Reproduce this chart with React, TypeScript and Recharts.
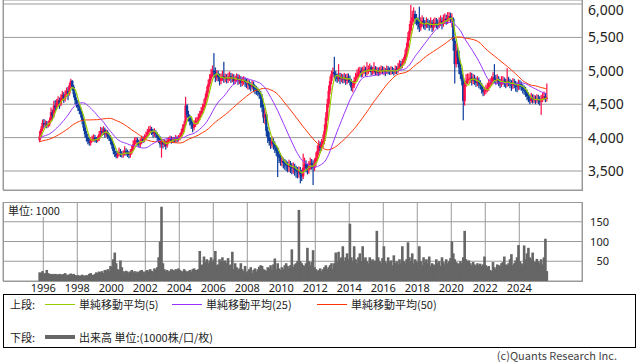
import React from 'react';
import { ComposedChart, Bar, Line, XAxis, YAxis, CartesianGrid } from 'recharts';

// monthly candles, first one is Oct 1995
const startYear = 1995;
const startMonth = 10;
const firstOpen = 3960;
// level where each average line starts on the left edge (history before the first candle)
const maStartLevels = { ma5: 4000, ma25: 4000, ma50: 3940 };

const closes = [
  4020, 4130, 4220,
  4200, 4210, 4180, 4200, 4260, 4380, 4330, 4480, 4450, 4520, 4560, 4500, // 1996
  4600, 4640, 4580, 4650, 4700, 4660, 4780, 4850, 4760, 4650, 4560, 4500, // 1997
  4450, 4400, 4350, 4250, 4150, 4050, 4000, 3950, 3920, 3960, 3980, 4000, // 1998
  3970, 3960, 3980, 4050, 4100, 4080, 4120, 4050, 4080, 4020, 4000, 3950, // 1999
  3880, 3800, 3760, 3720, 3750, 3780, 3760, 3740, 3760, 3800, 3780, 3760, // 2000
  3740, 3780, 3830, 3900, 3950, 3960, 3930, 3900, 3940, 3980, 3960, 4000, // 2001
  4030, 4080, 4120, 4130, 4100, 4060, 4080, 4050, 4000, 3980, 3900, 3940, // 2002
  3900, 3920, 3880, 3950, 3960, 3980, 3950, 3970, 3960, 3990, 3970, 3990, // 2003
  4020, 4080, 4150, 4200, 4480, 4350, 4300, 4250, 4200, 4150, 4200, 4250, // 2004
  4250, 4300, 4350, 4400, 4450, 4500, 4600, 4700, 4800, 4880, 4950, 5000, // 2005
  4980, 4900, 4950, 4900, 4850, 4900, 4920, 4880, 4900, 4870, 4900, 4920, // 2006
  4880, 4900, 4850, 4870, 4900, 4850, 4880, 4820, 4850, 4860, 4830, 4800, // 2007
  4820, 4780, 4760, 4800, 4740, 4720, 4700, 4680, 4650, 4600, 4450, 4300, // 2008
  4350, 4100, 4000, 3950, 3900, 3950, 3900, 3850, 3800, 3750, 3700, 3650, // 2009
  3650, 3620, 3600, 3580, 3560, 3600, 3560, 3540, 3560, 3520, 3500, 3480, // 2010
  3500, 3450, 3420, 3550, 3600, 3550, 3520, 3580, 3620, 3600, 3550, 3620, // 2011
  3700, 3800, 3900, 3850, 3900, 3950, 4100, 4300, 4500, 4700, 4850, 4950, // 2012
  4980, 4950, 4900, 4880, 4920, 4880, 4900, 4870, 4900, 4850, 4900, 4880, // 2013
  4850, 4750, 4780, 4850, 4900, 4950, 4980, 5000, 4970, 5000, 5020, 4980, // 2014
  5000, 5020, 5050, 4980, 5000, 5030, 4980, 5000, 4970, 5000, 5020, 5000, // 2015
  5000, 4980, 5020, 5000, 4990, 5010, 5000, 4980, 5020, 5000, 5050, 5100, // 2016
  5080, 5120, 5150, 5250, 5350, 5500, 5600, 5750, 5800, 5850, 5780, 5750, // 2017
  5700, 5650, 5720, 5750, 5700, 5680, 5720, 5700, 5680, 5720, 5650, 5700, // 2018
  5720, 5700, 5680, 5720, 5750, 5700, 5760, 5780, 5750, 5800, 5820, 5780, // 2019
  5780, 5450, 5100, 5300, 5200, 5050, 4950, 4850, 4550, 4800, 4850, 4880, // 2020
  4880, 4900, 4850, 4880, 4850, 4820, 4850, 4800, 4780, 4720, 4680, 4700, // 2021
  4720, 4750, 4800, 4820, 4850, 4900, 4880, 4850, 4880, 4820, 4800, 4850, // 2022
  4850, 4820, 4800, 4850, 4830, 4800, 4780, 4820, 4800, 4780, 4760, 4800, // 2023
  4780, 4760, 4720, 4700, 4680, 4620, 4580, 4550, 4600, 4560, 4580, 4560, // 2024
  4580, 4560, 4540, 4580, 4600, 4620, 4580, 4600, // 2025
];

const highs = [
  4100, 4170, 4270,
  4280, 4260, 4250, 4250, 4300, 4450, 4420, 4550, 4560, 4580, 4620, 4600,
  4650, 4700, 4680, 4710, 4750, 4760, 4820, 4880, 4860, 4790, 4680, 4600,
  4560, 4500, 4450, 4380, 4290, 4200, 4100, 4060, 4000, 4010, 4030, 4050,
  4040, 4010, 4030, 4100, 4160, 4150, 4170, 4150, 4120, 4110, 4060, 4040,
  3980, 3920, 3850, 3800, 3800, 3850, 3830, 3800, 3810, 3870, 3840, 3820,
  3800, 3830, 3880, 3960, 4000, 4010, 4000, 3970, 3990, 4030, 4020, 4050,
  4090, 4130, 4170, 4180, 4160, 4130, 4140, 4110, 4080, 4050, 4020, 3990,
  3980, 3970, 3960, 3990, 4010, 4030, 4020, 4010, 4010, 4040, 4020, 4040,
  4070, 4130, 4200, 4250, 4610, 4500, 4400, 4340, 4300, 4240, 4260, 4300,
  4310, 4360, 4400, 4460, 4510, 4580, 4660, 4770, 4870, 4950, 5030, 5080,
  5265, 5050, 5010, 5000, 4960, 4960, 5000, 5135, 4960, 4950, 4970, 4990,
  4970, 4960, 4950, 4930, 4960, 4950, 4940, 4920, 4910, 4920, 4900, 4880,
  4880, 4860, 4830, 4860, 4840, 4790, 4770, 4750, 4720, 4700, 4650, 4500,
  4420, 4380, 4160, 4080, 4000, 4020, 3990, 3940, 3890, 3850, 3800, 3760,
  3720, 3700, 3680, 3660, 3640, 3670, 3650, 3620, 3630, 3610, 3580, 3560,
  3570, 3560, 3520, 3760, 3700, 3660, 3610, 3650, 3700, 3680, 3660, 3690,
  3780, 3880, 3960, 3940, 3980, 4050, 4200, 4380, 4580, 4780, 4920, 5000,
  5050, 5210, 5000, 4960, 5100, 4970, 4960, 4950, 4970, 4950, 4960, 4960,
  4930, 4880, 4830, 4910, 4970, 5020, 5050, 5060, 5050, 5060, 5080, 5060,
  5130, 5080, 5110, 5080, 5060, 5130, 5070, 5060, 5050, 5060, 5080, 5070,
  5060, 5040, 5080, 5070, 5050, 5070, 5060, 5040, 5080, 5070, 5120, 5160,
  5150, 5180, 5210, 5320, 5420, 5580, 5700, 5985, 5900, 5950, 5900, 5850,
  5800, 5960, 5800, 5830, 5800, 5760, 5800, 5780, 5760, 5800, 5760, 5780,
  5800, 5790, 5770, 5800, 5830, 5800, 5840, 5860, 5840, 5880, 5880, 5870,
  5860, 5800, 5500, 5410, 5350, 5300, 5150, 5000, 4900, 4850, 4950, 4960,
  4960, 4980, 4970, 4950, 4940, 4900, 4920, 4900, 4860, 4820, 4760, 4760,
  4790, 4820, 4870, 4890, 4920, 4980, 5100, 4940, 4950, 4920, 4880, 4920,
  4920, 4900, 4880, 5040, 4910, 4880, 4860, 4890, 4880, 4850, 4830, 4870,
  4860, 4840, 4800, 4780, 4760, 4720, 4680, 4640, 4670, 4650, 4640, 4630,
  4650, 4640, 4620, 4640, 4670, 4690, 4670, 4810,
];

const lows = [
  3930, 3990, 4100,
  4150, 4150, 4140, 4150, 4170, 4230, 4260, 4300, 4400, 4420, 4480, 4430,
  4470, 4560, 4520, 4540, 4610, 4560, 4630, 4740, 4700, 4600, 4500, 4450,
  4400, 4350, 4300, 4200, 4100, 4000, 3940, 3900, 3880, 3880, 3930, 3940,
  3930, 3920, 3930, 3950, 4010, 4030, 4040, 4000, 4010, 3980, 3950, 3900,
  3830, 3750, 3710, 3690, 3690, 3720, 3710, 3700, 3700, 3730, 3730, 3710,
  3690, 3700, 3750, 3800, 3870, 3900, 3880, 3860, 3850, 3900, 3920, 3930,
  3970, 4000, 4050, 4070, 4040, 4000, 4010, 4000, 3950, 3920, 3850, 3700,
  3840, 3860, 3820, 3850, 3910, 3930, 3910, 3920, 3920, 3930, 3930, 3940,
  3960, 3990, 4050, 4110, 4170, 4300, 4240, 4180, 4130, 4080, 4110, 4160,
  4190, 4210, 4260, 4310, 4360, 4410, 4460, 4560, 4660, 4760, 4840, 4910,
  4900, 4830, 4850, 4840, 4780, 4800, 4850, 4820, 4830, 4810, 4820, 4850,
  4820, 4830, 4790, 4800, 4830, 4790, 4800, 4760, 4770, 4790, 4760, 4740,
  4720, 4720, 4690, 4720, 4680, 4650, 4640, 4620, 4580, 4450, 4380, 4220,
  4200, 4020, 3920, 3880, 3830, 3850, 3820, 3770, 3720, 3410, 3620, 3580,
  3570, 3540, 3520, 3500, 3480, 3490, 3470, 3450, 3460, 3430, 3400, 3390,
  3400, 3315, 3350, 3380, 3500, 3480, 3450, 3460, 3520, 3520, 3290, 3500,
  3580, 3650, 3740, 3770, 3800, 3850, 3900, 4050, 4250, 4450, 4650, 4800,
  4900, 4880, 4840, 4820, 4840, 4800, 4830, 4810, 4820, 4790, 4800, 4820,
  4780, 4700, 4680, 4740, 4810, 4860, 4900, 4920, 4900, 4910, 4950, 4920,
  4930, 4950, 4980, 4930, 4940, 4950, 4930, 4930, 4920, 4930, 4960, 4950,
  4940, 4920, 4950, 4950, 4940, 4940, 4950, 4930, 4950, 4950, 4970, 5020,
  5020, 5040, 5080, 5110, 5200, 5300, 5450, 5550, 5680, 5720, 5700, 5680,
  5620, 5580, 5600, 5660, 5630, 5610, 5640, 5640, 5600, 5640, 5580, 5600,
  5650, 5640, 5620, 5640, 5670, 5620, 5660, 5700, 5690, 5700, 5740, 5720,
  5650, 5300, 4810, 5050, 5100, 4950, 4880, 4780, 4260, 4480, 4760, 4800,
  4810, 4820, 4780, 4800, 4790, 4760, 4770, 4740, 4720, 4660, 4620, 4630,
  4650, 4680, 4700, 4750, 4770, 4800, 4820, 4790, 4800, 4770, 4740, 4760,
  4790, 4760, 4740, 4760, 4770, 4740, 4700, 4730, 4740, 4690, 4680, 4710,
  4720, 4700, 4660, 4640, 4610, 4560, 4530, 4500, 4520, 4510, 4520, 4500,
  4520, 4500, 4480, 4340, 4530, 4560, 4530, 4540,
];

// volume, units of 1000
const volumes = [
  22, 20, 25,
  18, 20, 28, 20, 18, 17, 18, 16, 18, 17, 16, 18,
  17, 16, 18, 20, 16, 15, 17, 19, 16, 18, 15, 14,
  15, 13, 14, 16, 14, 13, 15, 14, 18, 20, 16, 15,
  18, 22, 20, 24, 22, 25, 20, 28, 26, 30, 25, 38,
  35, 55, 72, 45, 30, 28, 52, 35, 25, 22, 26, 24,
  20, 24, 28, 22, 25, 20, 24, 22, 26, 28, 24, 22,
  25, 28, 24, 30, 26, 22, 32, 28, 35, 60, 100, 188,
  45, 30, 25, 28, 24, 26, 30, 28, 26, 30, 28, 32,
  28, 25, 24, 30, 26, 22, 25, 28, 24, 30, 32, 28,
  28, 30, 76, 40, 42, 62, 48, 55, 45, 52, 60, 50,
  55, 76, 40, 42, 55, 48, 60, 50, 52, 45, 58, 40,
  42, 74, 30, 45, 35, 28, 32, 45, 30, 25, 38, 22,
  25, 30, 35, 20, 28, 32, 24, 30, 36, 40, 38, 30,
  28, 25, 35, 32, 40, 28, 42, 57, 30, 45, 32, 28,
  35, 30, 40, 45, 38, 32, 40, 80, 35, 42, 45, 50,
  180, 50, 45, 40, 38, 45, 84, 50, 40, 48, 78, 35,
  30, 25, 28, 32, 25, 30, 35, 40, 30, 35, 40, 45,
  30, 45, 72, 50, 74, 55, 60, 88, 50, 60, 70, 55,
  145, 60, 50, 88, 55, 45, 60, 70, 50, 88, 55, 60,
  50, 45, 60, 50, 55, 48, 52, 127, 60, 50, 45, 58,
  88, 50, 45, 60, 48, 52, 40, 65, 45, 50, 42, 55,
  45, 88, 50, 45, 55, 98, 60, 50, 70, 45, 55, 50,
  45, 88, 50, 40, 60, 48, 55, 45, 62, 38, 45, 42,
  40, 55, 45, 50, 38, 60, 48, 42, 55, 45, 50, 58,
  100, 70, 55, 48, 45, 42, 50, 45, 60, 127, 55, 50,
  52, 45, 40, 48, 42, 38, 45, 40, 44, 38, 42, 62,
  40, 35, 38, 28, 25, 48, 35, 30, 42, 40, 38, 45,
  48, 62, 42, 40, 45, 55, 68, 40, 45, 52, 60, 91,
  50, 45, 42, 90, 55, 70, 84, 60, 55, 72, 50, 48,
  56, 50, 45, 55, 42, 60, 107, 25,
];

const yearTicks = [1996, 1998, 2000, 2002, 2004, 2006, 2008, 2010, 2012, 2014, 2016, 2018, 2020, 2022, 2024];
const priceTicks = [3500, 4000, 4500, 5000, 5500, 6000];
const volumeTicks = [50, 100, 150];

const legendTop = [
  { key: 'ma5', label: '単純移動平均(5)', color: '#99cc00' },
  { key: 'ma25', label: '単純移動平均(25)', color: '#9933ff' },
  { key: 'ma50', label: '単純移動平均(50)', color: '#ff3300' },
];

const UP = '#ff1048';
const DOWN = '#0b3c9e';
const GRID = '#9a9a9a';
const FONT = "'Noto Sans CJK JP', 'Noto Sans', sans-serif";

const sma = (n: number, seed: number) =>
  closes.map((_, i) => {
    let s = 0;
    for (let k = i - n + 1; k <= i; k++) s += k >= 0 ? closes[k] : seed;
    return s / n;
  });

const ma5 = sma(5, maStartLevels.ma5);
const ma25 = sma(25, maStartLevels.ma25);
const ma50 = sma(50, maStartLevels.ma50);

const data = closes.map((c, i) => ({
  t: startYear + (startMonth - 1 + i + 0.5) / 12,
  open: i === 0 ? firstOpen : closes[i - 1],
  close: c,
  high: highs[i],
  low: lows[i],
  range: [lows[i], highs[i]],
  vol: volumes[i],
  ma5: ma5[i],
  ma25: ma25[i],
  ma50: ma50[i],
}));

const Candle = (props: any) => {
  const { x, y, width, height, payload } = props;
  if (!payload || x == null || y == null) return null;
  const top = height < 0 ? y + height : y;
  const h = Math.abs(height);
  const { open, close, high, low } = payload;
  const color = close >= open ? UP : DOWN;
  const k = high > low ? h / (high - low) : 0;
  const bodyTop = top + (high - Math.max(open, close)) * k;
  const bodyH = Math.max(1, Math.abs(close - open) * k);
  const cx = x + width / 2;
  return (
    <g>
      <rect x={cx - 0.6} y={top} width={1.2} height={Math.max(1, h)} fill={color} />
      <rect x={cx - 1.2} y={bodyTop} width={2.4} height={bodyH} fill={color} />
    </g>
  );
};

const VolBar = (props: any) => {
  const { x, y, width, height } = props;
  if (x == null || y == null) return null;
  const cx = x + width / 2;
  return <rect x={cx - 1.3} y={y} width={2.6} height={Math.max(0, height)} fill="#666666" />;
};

const PriceTick = (props: any) => {
  const { x, y, payload } = props;
  // keep the top label inside the picture
  const ty = Math.max(y, 10);
  return (
    <text x={x} y={ty} dy={5} textAnchor="start" fontSize={14} fill="#222" fontFamily="'Noto Sans', sans-serif">
      {Number(payload.value).toLocaleString('en-US')}
    </text>
  );
};

const VolTick = (props: any) => {
  const { x, y, payload } = props;
  return (
    <text x={x + 19} y={y} dy={4} textAnchor="end" fontSize={11} fill="#222" fontFamily="'Noto Sans', sans-serif">
      {payload.value}
    </text>
  );
};

const X_DOMAIN = [1993.63, 2027.69];

const App = () => {
  return (
    <div
      style={{
        position: 'absolute',
        left: 0,
        top: 0,
        width: 638,
        height: 362,
        background: '#fff',
        fontFamily: FONT,
        color: '#222',
        overflow: 'hidden',
      }}
    >
      {/* upper: price candles and moving averages */}
      <div style={{ position: 'absolute', left: 0, top: 0 }}>
        <ComposedChart width={638} height={195} data={data} margin={{ top: 0, right: 0, left: 3, bottom: 5 }}>
          <CartesianGrid stroke={GRID} strokeWidth={1} />
          <XAxis
            dataKey="t"
            type="number"
            domain={X_DOMAIN}
            ticks={yearTicks}
            allowDataOverflow
            height={0}
            tick={false}
            tickLine={false}
            axisLine={false}
          />
          <YAxis
            orientation="right"
            width={56}
            domain={[3216, 6060]}
            ticks={priceTicks}
            interval={0}
            allowDataOverflow
            axisLine={false}
            tickLine={false}
            tickSize={4}
            tickMargin={2}
            tick={<PriceTick />}
          />
          <Bar dataKey="range" barSize={2} shape={<Candle />} isAnimationActive={false} />
          <Line dataKey="ma50" type="linear" stroke="#ff3300" strokeWidth={1} dot={false} isAnimationActive={false} />
          <Line dataKey="ma25" type="linear" stroke="#9933ff" strokeWidth={1} dot={false} isAnimationActive={false} />
          <Line dataKey="ma5" type="linear" stroke="#99cc00" strokeWidth={1.2} dot={false} isAnimationActive={false} />
        </ComposedChart>
      </div>
      <div
        style={{
          position: 'absolute',
          left: 3,
          top: -1,
          width: 580,
          height: 192,
          boxSizing: 'border-box',
          border: `1px solid ${GRID}`,
          pointerEvents: 'none',
        }}
      />

      {/* lower: volume */}
      <div style={{ position: 'absolute', left: 0, top: 202 }}>
        <ComposedChart width={638} height={95} data={data} margin={{ top: 0, right: 0, left: 3, bottom: 0 }}>
          <CartesianGrid stroke={GRID} strokeWidth={1} />
          <XAxis
            dataKey="t"
            type="number"
            domain={X_DOMAIN}
            ticks={yearTicks}
            interval={0}
            allowDataOverflow
            height={16}
            tickLine={false}
            axisLine={false}
            tickSize={2}
            tickMargin={1}
            tick={{ fontSize: 11, fill: '#222', fontFamily: "'Noto Sans', sans-serif" }}
          />
          <YAxis
            orientation="right"
            width={56}
            domain={[0, 200]}
            ticks={volumeTicks}
            interval={0}
            allowDataOverflow
            axisLine={false}
            tickLine={false}
            tick={<VolTick />}
          />
          <Bar dataKey="vol" barSize={2} shape={<VolBar />} isAnimationActive={false} />
        </ComposedChart>
      </div>
      <div
        style={{
          position: 'absolute',
          left: 3,
          top: 202,
          width: 580,
          height: 80,
          boxSizing: 'border-box',
          border: `1px solid ${GRID}`,
          pointerEvents: 'none',
        }}
      />
      <div style={{ position: 'absolute', left: 8, top: 203, fontSize: 11, lineHeight: '14px', background: '#fff' }}>
        単位: 1000
      </div>

      {/* legend box */}
      <div
        style={{
          position: 'absolute',
          left: 3,
          top: 294,
          width: 633,
          height: 54,
          boxSizing: 'border-box',
          border: '1px solid #000',
          fontSize: 11,
          lineHeight: '14px',
        }}
      >
        <div style={{ position: 'absolute', left: 6, top: 2 }}>上段:</div>
        {legendTop.map((item, i) => (
          <div key={item.key} style={{ position: 'absolute', left: [41, 168, 313][i], top: 2, display: 'flex', alignItems: 'center' }}>
            <span style={{ display: 'inline-block', width: 30, height: 1, background: item.color, marginRight: 4 }} />
            <span>{item.label}</span>
          </div>
        ))}
        <div style={{ position: 'absolute', left: 6, top: 35 }}>下段:</div>
        <div style={{ position: 'absolute', left: 41, top: 35, display: 'flex', alignItems: 'center' }}>
          <span style={{ display: 'inline-block', width: 30, height: 4, background: '#666', marginRight: 4 }} />
          <span>出来高 単位:(1000株/口/枚)</span>
        </div>
      </div>

      <div style={{ position: 'absolute', right: 21, top: 349, fontSize: 11, lineHeight: '13px', color: '#444' }}>
        (c)Quants Research Inc.
      </div>
    </div>
  );
};

export default App;
